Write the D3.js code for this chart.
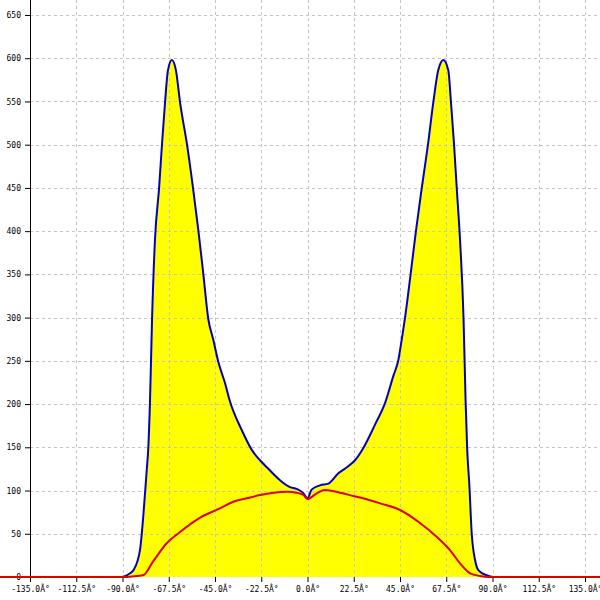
<!DOCTYPE html>
<html><head><meta charset="utf-8">
<script src="https://cdn.jsdelivr.net/npm/d3@7"></script>
<style>body{margin:0;background:#fff}svg{display:block}</style>
</head><body>
<script>
// ---- data ----
const xTicks = [-135, -112.5, -90, -67.5, -45, -22.5, 0, 22.5, 45, 67.5, 90, 112.5, 135];
const yTicks = [0, 50, 100, 150, 200, 250, 300, 350, 400, 450, 500, 550, 600, 650];

const blueAngles = [-180, -90.5, -88.8, -86.5, -84.6, -81.5, -79.9, -78.2, -77.5, -76.6, -75.6, -74.2, -72.2, -70.8, -69.3, -67.9, -66.0, -64.0, -62.0, -58.6, -55.7, -53.1, -50.7, -48.3, -45.8, -43.4, -40.1, -37.7, -32.0, -27.1, -23.1, -19.8, -13.4, -8.5, -5.3, -2.0, 0, 2.0, 6.1, 10.1, 15.0, 19.8, 23.1, 27.1, 32.8, 37.7, 41.7, 44.2, 45.8, 47.4, 50.2, 52.8, 55.6, 58.6, 61.2, 63.6, 66.1, 68.5, 69.8, 71.3, 72.6, 74.2, 75.9, 76.9, 77.7, 78.7, 79.9, 81.5, 83.1, 87.2, 90.4, 180];
const blueValues = [0, 0, 1, 4, 8, 31, 70, 124, 147, 205, 300, 390, 450, 500, 549, 586, 598, 586, 549, 500, 450, 401, 351, 299, 274, 249, 224, 203, 170, 147, 135, 127, 112, 104, 102, 97, 91, 101, 106, 108, 120, 128, 135, 149, 176, 201, 232, 251, 274, 299, 351, 401, 450, 500, 549, 586, 598, 586, 549, 500, 450, 390, 300, 205, 147, 108, 50, 20, 8, 2, 0, 0];

const redAngles = [-180, -88, -86.4, -80.0, -75.1, -68.5, -62.0, -56.5, -52.0, -42.6, -36.1, -29.6, -23.1, -16.6, -10.1, -5.3, -2.0, 0, 4.5, 8.5, 15.8, 22.3, 28.8, 35.3, 45.0, 54.7, 62.8, 69.3, 74.2, 79.1, 83.9, 88, 180];
const redValues = [0, 0, 0.4, 2, 18, 39, 52, 62, 69, 79.4, 87, 91, 94.8, 97.5, 98.7, 97.5, 94.8, 90.2, 96.8, 100.6, 97.5, 93.7, 89.9, 85.2, 77.5, 62.5, 46.6, 31.2, 15.8, 4.3, 1.2, 0, 0];

// ---- chart ----
const W = 600, H = 600;
const svg = d3.select("body").append("svg").attr("width", W).attr("height", H);
const x = d3.scaleLinear().domain([-135, 135]).range([30, 585]);
const y = d3.scaleLinear().domain([0, 650]).range([577, 15]);

const blue = blueAngles.map((a, i) => [a, blueValues[i]]);
const red = redAngles.map((a, i) => [a, redValues[i]]);

// area fill
svg.append("path")
  .datum(blue)
  .attr("d", d3.area().x(d => x(d[0])).y0(y(0)).y1(d => y(d[1])).curve(d3.curveMonotoneX))
  .attr("fill", "#ffff00");

// grid
const grid = svg.append("g").attr("stroke", "#c4c4c4").attr("stroke-dasharray", "3,3").attr("stroke-width", 1);
grid.selectAll("line.v").data(xTicks).join("line")
  .attr("x1", d => Math.round(x(d)) + 0.5).attr("x2", d => Math.round(x(d)) + 0.5)
  .attr("y1", 0).attr("y2", y(0));
grid.selectAll("line.h").data(yTicks.slice(1)).join("line")
  .attr("x1", x(-135)).attr("x2", W)
  .attr("y1", d => Math.round(y(d)) + 0.5).attr("y2", d => Math.round(y(d)) + 0.5);

// axes
const fmt = d => d.toFixed(1) + "Â°";
const gx = svg.append("g").attr("transform", `translate(0,${y(0)})`)
  .call(d3.axisBottom(x).tickValues(xTicks).tickSize(5).tickFormat(fmt));
gx.select(".domain").remove();
const gy = svg.append("g").attr("transform", `translate(${x(-135)},0)`)
  .call(d3.axisLeft(y).tickValues(yTicks).tickSize(5).tickFormat(d3.format("d")));
gy.select(".domain").remove();
svg.append("line").attr("x1", x(-135) + 0.5).attr("x2", x(-135) + 0.5).attr("y1", 0).attr("y2", 582)
  .attr("stroke", "#000");
svg.selectAll(".tick line").attr("stroke", "#000");
svg.selectAll(".tick text").attr("font-family", "DejaVu Sans Mono").attr("font-size", 8).attr("fill", "#000");
gx.selectAll(".tick text").attr("dy", "0.75em").attr("y", 9);
gy.selectAll(".tick text").attr("x", -9);

// lines
svg.append("path").datum(blue)
  .attr("d", d3.line().x(d => x(d[0])).y(d => y(d[1])).curve(d3.curveMonotoneX))
  .attr("fill", "none").attr("stroke", "#0000c0").attr("stroke-width", 2);
svg.append("path").datum(red)
  .attr("d", d3.line().x(d => x(d[0])).y(d => y(d[1])).curve(d3.curveMonotoneX))
  .attr("fill", "none").attr("stroke", "#e00000").attr("stroke-width", 2);
</script>
</body></html>
